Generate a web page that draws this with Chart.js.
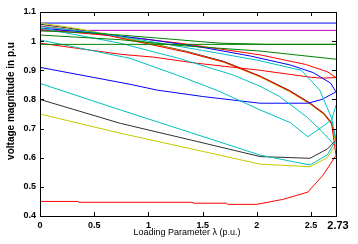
<!DOCTYPE html>
<html>
<head>
<meta charset="utf-8">
<script src="https://cdn.jsdelivr.net/npm/chart.js@4.4.0/dist/chart.umd.min.js"></script>
<style>
  html, body { margin: 0; padding: 0; background: #fff; }
  canvas { display: block; }
</style>
</head>
<body>
<canvas id="pvChart" width="358" height="244"></canvas>
<script>
// Axis ticks
const xTicks = [0, 0.5, 1, 1.5, 2, 2.5];
const yTicks = [0.4, 0.5, 0.6, 0.7, 0.8, 0.9, 1.0, 1.1];

// Flat buses (generator buses)
const flatLam = [0, 2.73];
const blueFlatV = [1.062, 1.062];
const magentaFlatV = [1.037, 1.037];
const greenFlatV = [0.989, 0.989];

// Upper branches of the weakest buses (they reach the nose together)
const noseLam = [0, 0.3, 0.62, 1.0, 1.35, 1.7, 2.03, 2.3, 2.49, 2.62, 2.69, 2.73];
const blackUpperV = [1.058, 1.043, 1.023, 0.994, 0.965, 0.93, 0.88, 0.831, 0.788, 0.752, 0.72, 0.66];
const yellowUpperV = [1.062, 1.046, 1.024, 0.993, 0.963, 0.927, 0.877, 0.827, 0.784, 0.748, 0.715, 0.645];
const redUpperV = [1.052, 1.038, 1.02, 0.99, 0.962, 0.928, 0.879, 0.829, 0.786, 0.75, 0.716, 0.608];

// Lower branches
const lowerLam = [0, 0.74, 1.4, 2.03, 2.49, 2.65, 2.73];
const blackLowerV = [0.8, 0.718, 0.66, 0.604, 0.598, 0.63, 0.66];
const yellowLowerV = [0.75, 0.684, 0.63, 0.578, 0.569, 0.60, 0.645];
const cyanLowerV = [0.855, 0.764, 0.685, 0.609, 0.575, 0.61, 0.66];

const redLowLam = [0, 0.35, 0.36, 1.4, 1.42, 1.72, 1.73, 2.0, 2.24, 2.47, 2.61, 2.73];
const redLowV = [0.45, 0.45, 0.447, 0.447, 0.444, 0.444, 0.44, 0.44, 0.457, 0.482, 0.54, 0.608];

// Blue pair
const blueUpLam = [0, 0.5, 1.0, 1.54, 1.94, 2.31, 2.52, 2.68, 2.73];
const blueUpV = [1.045, 1.028, 1.006, 0.976, 0.949, 0.918, 0.892, 0.856, 0.826];
const blueLowLam = [0, 0.83, 1.08, 1.5, 2.03, 2.47, 2.6, 2.73];
const blueLowV = [0.91, 0.852, 0.832, 0.81, 0.787, 0.787, 0.80, 0.826];

// Red pair near 0.9
const redUpLam = [0, 0.74, 1.29, 2.03, 2.45, 2.65, 2.73];
const redUpV = [1.04, 1.016, 0.993, 0.953, 0.92, 0.895, 0.875];
const redMidLam = [0, 0.74, 1.05, 1.45, 2.03, 2.5, 2.6, 2.73];
const redMidV = [0.993, 0.955, 0.945, 0.924, 0.9, 0.876, 0.873, 0.875];

// Green buses
const greenUpLam = [0, 0.37, 0.74, 1.2, 1.66, 2.1, 2.73];
const greenUpV = [1.035, 1.03, 1.021, 1.007, 0.993, 0.989, 0.989];
const greenMidLam = [0, 0.74, 1.29, 2.03, 2.73];
const greenMidV = [1.021, 1.005, 0.985, 0.966, 0.938];

// Cyan buses
const cyanALam = [0, 0.5, 1.0, 1.5, 2.0, 2.41, 2.58, 2.69, 2.73];
const cyanAV = [1.05, 1.03, 1.0, 0.968, 0.935, 0.9, 0.832, 0.735, 0.66];
const cyanBLam = [0, 0.74, 1.29, 1.78, 2.03, 2.21, 2.46, 2.6, 2.7];
const cyanBV = [1.045, 0.993, 0.94, 0.884, 0.845, 0.81, 0.74, 0.69, 0.65];
const cyanCLam = [0, 0.83, 1.29, 1.64, 2.03, 2.31, 2.47, 2.58, 2.69, 2.73];
const cyanCV = [1.004, 0.941, 0.88, 0.83, 0.764, 0.72, 0.672, 0.70, 0.73, 0.78];

const BLUE = '#0000ff', MAGENTA = '#c000c0', GREEN = '#008000', RED = '#ff0000',
      CYAN = '#00c0c0', YELLOW = '#c8c800', BLACK = '#303030';

function curve(lam, v, color) {
  return {
    data: lam.map((l, i) => ({ x: l, y: v[i] })),
    borderColor: color,
    showLine: true,
    fill: false
  };
}

const datasets = [
  curve(greenUpLam, greenUpV, GREEN),
  curve(flatLam, greenFlatV, GREEN),
  curve(greenMidLam, greenMidV, GREEN),
  curve(cyanCLam, cyanCV, CYAN),
  curve(cyanBLam, cyanBV, CYAN),
  curve(cyanALam, cyanAV, CYAN),
  curve(lowerLam, cyanLowerV, CYAN),
  curve(blueUpLam, blueUpV, BLUE),
  curve(blueLowLam, blueLowV, BLUE),
  curve(redUpLam, redUpV, RED),
  curve(redMidLam, redMidV, RED),
  curve(noseLam, redUpperV, RED),
  curve(redLowLam, redLowV, RED),
  curve(noseLam, yellowUpperV, YELLOW),
  curve(lowerLam, yellowLowerV, YELLOW),
  curve(noseLam, blackUpperV, BLACK),
  curve(lowerLam, blackLowerV, BLACK),
  curve(flatLam, blueFlatV, BLUE),
  curve(flatLam, magentaFlatV, MAGENTA)
];

const tickFont = { family: 'Liberation Sans', size: 9, weight: 'bold' };
const fmt = v => String(+Number(v).toFixed(2));

// frame, inward ticks, titles
const framePlugin = {
  id: 'frame',
  afterDraw(chart) {
    const { ctx, chartArea: a, scales } = chart;
    ctx.save();
    ctx.strokeStyle = '#000';
    ctx.lineWidth = 1;
    ctx.strokeRect(Math.round(a.left) + 0.5, Math.round(a.top) + 0.5,
      Math.round(a.right - a.left), Math.round(a.bottom - a.top));
    ctx.beginPath();
    xTicks.forEach(t => {
      const x = Math.round(scales.x.getPixelForValue(t)) + 0.5;
      ctx.moveTo(x, a.bottom); ctx.lineTo(x, a.bottom - 4);
      ctx.moveTo(x, a.top); ctx.lineTo(x, a.top + 4);
    });
    yTicks.forEach(t => {
      const y = Math.round(scales.y.getPixelForValue(t)) + 0.5;
      ctx.moveTo(a.left, y); ctx.lineTo(a.left + 4, y);
      ctx.moveTo(a.right, y); ctx.lineTo(a.right - 4, y);
    });
    ctx.stroke();

    ctx.fillStyle = '#000';
    ctx.textAlign = 'center';
    ctx.textBaseline = 'middle';
    ctx.font = 'bold 11px "Liberation Sans"';
    ctx.fillText('2.73', 338, 226);

    ctx.font = '9px "Liberation Sans"';
    ctx.fillText('Loading Parameter \u03bb (p.u.)', 187, 233);

    ctx.translate(11, 101);
    ctx.rotate(-Math.PI / 2);
    ctx.font = 'bold 10px "Liberation Sans"';
    ctx.fillText('voltage magnitude in p.u', 0, 0);
    ctx.restore();
  }
};

window.addEventListener('DOMContentLoaded', () => {
  new Chart(document.getElementById('pvChart'), {
    type: 'scatter',
    data: { datasets },
    plugins: [framePlugin],
    options: {
      responsive: false,
      animation: false,
      layout: { padding: { left: 0, right: 22, top: 12, bottom: 0 } },
      plugins: { legend: { display: false }, tooltip: { enabled: false } },
      elements: { point: { radius: 0 }, line: { borderWidth: 1, tension: 0 } },
      scales: {
        x: {
          type: 'linear', min: 0, max: 2.73,
          afterBuildTicks: s => { s.ticks = xTicks.map(v => ({ value: v })); },
          afterFit: s => { s.height = 28; },
          grid: { display: false, drawTicks: false },
          border: { display: false },
          ticks: { padding: 4, color: '#000', font: tickFont, maxRotation: 0, callback: fmt }
        },
        y: {
          type: 'linear', min: 0.4, max: 1.1,
          afterBuildTicks: s => { s.ticks = yTicks.map(v => ({ value: v })); },
          afterFit: s => { s.width = 40; },
          grid: { display: false, drawTicks: false },
          border: { display: false },
          ticks: { padding: 4, color: '#000', font: tickFont, callback: fmt }
        }
      }
    }
  });
});
</script>
</body>
</html>
